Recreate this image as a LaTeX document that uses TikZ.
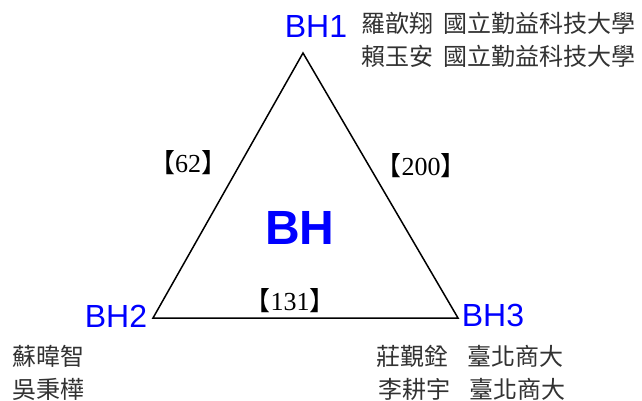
\documentclass[tikz,border=0pt]{standalone}
\usepackage{fontspec}
\setmainfont{Liberation Serif}
\newfontfamily\cjkfont{Noto Sans CJK TC}
\newfontfamily\labelfont{Liberation Sans}
\definecolor{bhblue}{RGB}{0,0,255}
\definecolor{namegray}{RGB}{50,50,50}
\tikzset{
  vertexlabel/.style={text=bhblue, font=\labelfont\fontsize{32}{32}\selectfont, inner sep=0pt},
  memberline/.style={text=namegray, font=\cjkfont\fontsize{24}{24}\selectfont, anchor=west, inner sep=0pt},
  edgecount/.style={font=\fontsize{26}{26}\selectfont, inner sep=0pt}
}
\newcommand{\countbox}[1]{{\cjkfont 【}#1{\cjkfont 】}}
\newcommand{\gap}[1][0.8em]{\hspace{#1}}
\begin{document}
\begin{tikzpicture}[x=1pt, y=-1pt]
    \useasboundingbox (0,0) rectangle (642,401);
    % Ecken
    \coordinate (top) at (303,53);
    \coordinate (left) at (153,318);
    \coordinate (right) at (458,318);

    % Dreieck
    \draw[line width=1.5pt, line join=miter] (top) -- (left) -- (right) -- cycle;

    % Beschriftung der Ecken
    \node[vertexlabel] (bh1) at (316,26) {BH1};
    \node[vertexlabel] (bh2) at (116,316) {BH2};
    \node[vertexlabel] (bh3) at (493,315) {BH3};
    \node[text=bhblue, font=\labelfont\bfseries\fontsize{48}{48}\selectfont, inner sep=0pt] (bh) at (300,228) {BH};

    % Kantenzahlen
    \node[edgecount] (e12) at (188,163) {\countbox{62}};
    \node[edgecount] (e13) at (421,166) {\countbox{200}};
    \node[edgecount] (e23) at (290,301) {\countbox{131}};

    % Mitglieder
    \node[memberline] (m1a) at (361,23) {羅歆翔\gap[0.45em]國立勤益科技大學};
    \node[memberline] (m1b) at (361,56) {賴玉安\gap[0.45em]國立勤益科技大學};
    \node[memberline] (m2a) at (12,356) {蘇暐智};
    \node[memberline] (m2b) at (12,389) {吳秉樺};
    \node[memberline] (m3a) at (376,356) {莊覲銓\gap 臺北商大};
    \node[memberline] (m3b) at (378,389) {李耕宇\gap 臺北商大};
\end{tikzpicture}
\end{document}
